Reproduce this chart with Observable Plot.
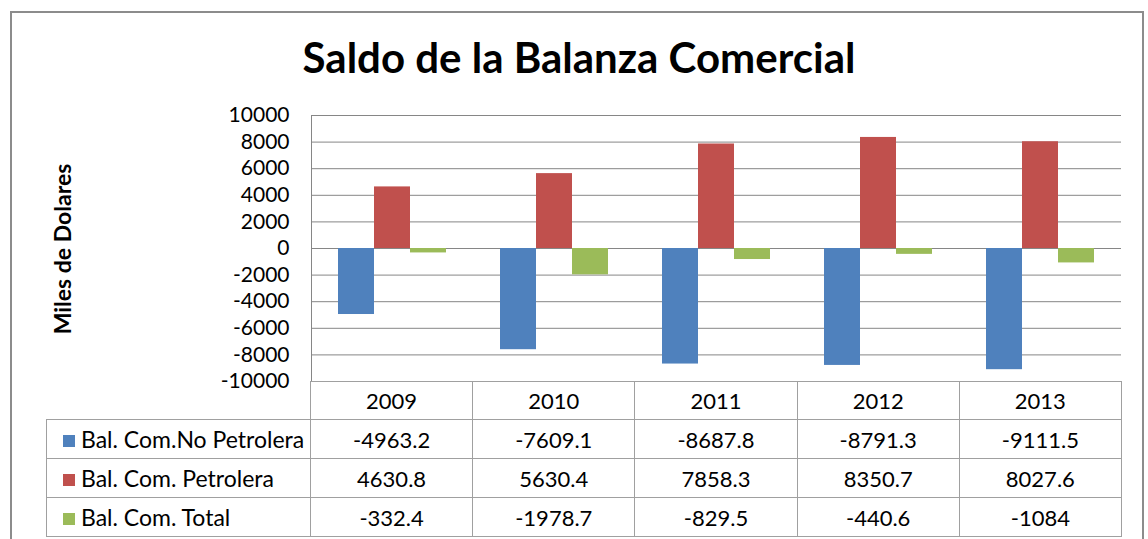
<!DOCTYPE html>
<html>
<head>
<meta charset="utf-8">
<script src="https://cdn.jsdelivr.net/npm/d3@7"></script>
<script src="https://cdn.jsdelivr.net/npm/@observablehq/plot@0.6"></script>
<style>
  html, body { margin: 0; padding: 0; background: #fff; overflow: hidden; width: 1148px; height: 539px; }
  #frame { position: absolute; left: 10px; top: 11px; width: 1134px; height: 600px; border: 2px solid #8c8c8c; box-sizing: border-box; }
  #chart { position: absolute; left: 0; top: 0; }
  #title { position: absolute; left: 0; top: 36px; width: 1158px; text-align: center; font-family: Lato, sans-serif; font-weight: bold; font-size: 42px; line-height: 42px; color: #000; white-space: nowrap; }
  #ylab { position: absolute; left: 62px; top: 249px; transform: translate(-50%, -50%) rotate(-90deg); font-family: Lato, sans-serif; font-weight: bold; font-size: 23px; color: #000; white-space: nowrap; }
  #tbl { position: absolute; left: 46px; top: 381px; border-collapse: collapse; table-layout: fixed; font-family: Lato, sans-serif; font-size: 22px; color: #000; background: transparent; }
  #tbl td { border: 1px solid #a0a0a0; padding: 0; text-align: center; height: 38px; box-sizing: border-box; white-space: nowrap; }
  #tbl td.blank { border-top: none; border-left: none; }
  #tbl td.lab { text-align: left; padding-left: 16px; font-size: 23px; }
  #tbl .sw { display: inline-block; width: 12px; height: 12px; margin-right: 6px; vertical-align: 1px; }
</style>
</head>
<body>
<div id="frame"></div>
<div id="chart"></div>
<div id="title">Saldo de la Balanza Comercial</div>
<div id="ylab">Miles de Dolares</div>
<table id="tbl"></table>
<script>
const years = ["2009", "2010", "2011", "2012", "2013"];
const seriesNames = ["Bal. Com.No Petrolera", "Bal. Com. Petrolera", "Bal. Com. Total"];
const noPetrolera = [-4963.2, -7609.1, -8687.8, -8791.3, -9111.5];
const petrolera = [4630.8, 5630.4, 7858.3, 8350.7, 8027.6];
const total = [-332.4, -1978.7, -829.5, -440.6, -1084];
const colors = ["#4F81BD", "#C0504D", "#9BBB59"];
const yTicks = [-10000, -8000, -6000, -4000, -2000, 0, 2000, 4000, 6000, 8000, 10000];

const seriesValues = [noPetrolera, petrolera, total];
const data = years.flatMap((yr, i) => seriesValues.map((arr, j) => ({year: yr, series: seriesNames[j], value: arr[i]})));

const W = 1148, H = 539, mL = 310, mR = 27, mT = 115, mB = 158;

const chart = Plot.plot({
  width: W, height: H,
  marginLeft: mL, marginRight: mR, marginTop: mT, marginBottom: mB,
  style: {fontFamily: "Lato, sans-serif", fontSize: "21px", background: "transparent", color: "#000", overflow: "visible"},
  fx: {domain: years, padding: 0, axis: null},
  x: {domain: seriesNames, paddingInner: 0, paddingOuter: 0.75, axis: null},
  y: {domain: [-10000, 10000]},
  color: {domain: seriesNames, range: colors},
  marks: [
    Plot.gridY(yTicks, {stroke: "#868686", strokeOpacity: 1}),
    Plot.frame({anchor: "left", facetAnchor: "left", stroke: "#868686"}),
    Plot.barY(data, {fx: "year", x: "series", y: "value", fill: "series"}),
    Plot.axisY(yTicks, {tickSize: 0, tickPadding: 22, tickFormat: d => String(d), label: null, fontSize: 21, fill: "#000"})
  ]
});
document.getElementById("chart").appendChild(chart);

// data table (legend + values), aligned with the fx bands
const colW = (W - mL - mR) / years.length;
const tbl = document.getElementById("tbl");
let html = `<colgroup><col style="width:${mL - 46}px">` + years.map(() => `<col style="width:${colW}px">`).join("") + `</colgroup>`;
html += `<tr><td class="blank"></td>` + years.map(y => `<td>${y}</td>`).join("") + `</tr>`;
seriesNames.forEach((s, j) => {
  html += `<tr><td class="lab" style="height:39px"><span class="sw" style="background:${colors[j]}"></span>${s}</td>` +
    seriesValues[j].map(v => `<td style="height:39px">${String(v)}</td>`).join("") + `</tr>`;
});
tbl.innerHTML = html;
</script>
</body>
</html>
